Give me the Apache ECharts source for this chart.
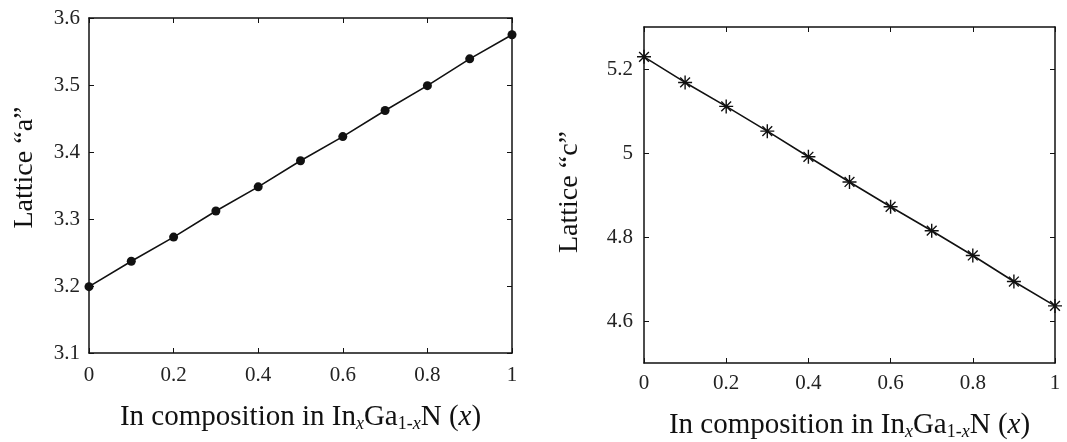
<!DOCTYPE html>
<html><head><meta charset="utf-8">
<script src="https://cdn.jsdelivr.net/npm/echarts@6/dist/echarts.min.js"></script>
<style>html,body{margin:0;padding:0;background:#fff}#c{width:1067px;height:442px}</style>
</head><body><div id="c"></div>
<script>
const composition = [0, 0.1, 0.2, 0.3, 0.4, 0.5, 0.6, 0.7, 0.8, 0.9, 1.0];
const latticeA = [3.199, 3.237, 3.273, 3.312, 3.348, 3.387, 3.423, 3.462, 3.499, 3.539, 3.575];
const latticeC = [5.229, 5.168, 5.111, 5.052, 4.991, 4.931, 4.872, 4.815, 4.756, 4.694, 4.636];
const xTicks = [0, 0.2, 0.4, 0.6, 0.8, 1];
const aTicks = [3.1, 3.2, 3.3, 3.4, 3.5, 3.6];
const cTicks = [4.6, 4.8, 5, 5.2];

const FONT = 'Liberation Serif';
const starPath = 'path://M45 0L55 0L55 100L45 100Z M0 45L100 45L100 55L0 55Z M11.5 18.5L18.5 11.5L88.5 81.5L81.5 88.5Z M81.5 11.5L88.5 18.5L18.5 88.5L11.5 81.5Z';

const xName = '{n|In composition in In}{si|x}{n|Ga}{s|1-}{si|x}{n|N (}{i|x}{n|)}';
const nameRich = {
  n: {fontFamily: FONT, fontSize: 29, color: '#111'},
  i: {fontFamily: FONT, fontSize: 29, fontStyle: 'italic', color: '#111'},
  s: {fontFamily: FONT, fontSize: 18, color: '#111', verticalAlign: 'bottom', padding: [14, 0, 0, 0]},
  si: {fontFamily: FONT, fontSize: 18, fontStyle: 'italic', color: '#111', verticalAlign: 'bottom', padding: [14, 0, 0, 0]}
};
const lineStyle = {color: '#111', width: 1.5};
const tickStyle = {show: true, inside: true, length: 5, lineStyle: {color: '#111', width: 1}};
const labelStyle = {fontFamily: FONT, fontSize: 21, color: '#222'};

function xAxes(gridIndex, margin, gap) {
  return [{
    type: 'value', gridIndex, min: 0, max: 1, position: 'bottom',
    axisLine: {show: true, onZero: false, lineStyle},
    axisTick: Object.assign({customValues: xTicks}, tickStyle),
    axisLabel: Object.assign({customValues: xTicks, margin}, labelStyle),
    splitLine: {show: false},
    name: xName, nameLocation: 'middle', nameGap: gap,
    nameTextStyle: {rich: nameRich}
  }, {
    type: 'value', gridIndex, min: 0, max: 1, position: 'top',
    axisLine: {show: true, onZero: false, lineStyle},
    axisTick: Object.assign({customValues: xTicks}, tickStyle),
    axisLabel: {show: false}, splitLine: {show: false}
  }];
}
function yAxes(gridIndex, min, max, ticks, name, gap, margin, pad) {
  return [{
    type: 'value', gridIndex, min, max, position: 'left',
    axisLine: {show: true, onZero: false, lineStyle},
    axisTick: Object.assign({customValues: ticks}, tickStyle),
    axisLabel: Object.assign({customValues: ticks, margin}, labelStyle),
    splitLine: {show: false},
    name, nameLocation: 'middle', nameGap: gap,
    nameTextStyle: {fontFamily: FONT, fontSize: 28, color: '#111', padding: pad}
  }, {
    type: 'value', gridIndex, min, max, position: 'right',
    axisLine: {show: true, onZero: false, lineStyle},
    axisTick: Object.assign({customValues: ticks}, tickStyle),
    axisLabel: {show: false}, splitLine: {show: false}
  }];
}

const chart = echarts.init(document.getElementById('c'), null, {renderer: 'canvas'});
chart.setOption({
  backgroundColor: '#fff',
  animation: false,
  grid: [
    {left: 89, top: 18, width: 423, height: 335, containLabel: false, outerBoundsMode: 'none'},
    {left: 644, top: 27, width: 411, height: 336, containLabel: false, outerBoundsMode: 'none'}
  ],
  xAxis: [...xAxes(0, 12, 48), ...xAxes(1, 10, 46)],
  yAxis: [
    ...yAxes(0, 3.1, 3.6, aTicks, 'Lattice \u201ca\u201d', 50, 9, [0, 0, 0, 36]),
    ...yAxes(1, 4.5, 5.3, cTicks, 'Lattice \u201cc\u201d', 60, 11, [0, 0, 0, 6])
  ],
  series: [
    {
      type: 'line', xAxisIndex: 0, yAxisIndex: 0,
      data: composition.map((x, i) => [x, latticeA[i]]),
      symbol: 'circle', symbolSize: 9, showAllSymbol: true,
      lineStyle: {color: '#111', width: 1.6},
      itemStyle: {color: '#111', borderWidth: 0}
    },
    {
      type: 'line', xAxisIndex: 2, yAxisIndex: 2,
      data: composition.map((x, i) => [x, latticeC[i]]),
      symbol: starPath, symbolSize: 14, showAllSymbol: true,
      lineStyle: {color: '#111', width: 1.6},
      itemStyle: {color: '#111', borderWidth: 0}
    }
  ]
});
</script>
</body></html>
